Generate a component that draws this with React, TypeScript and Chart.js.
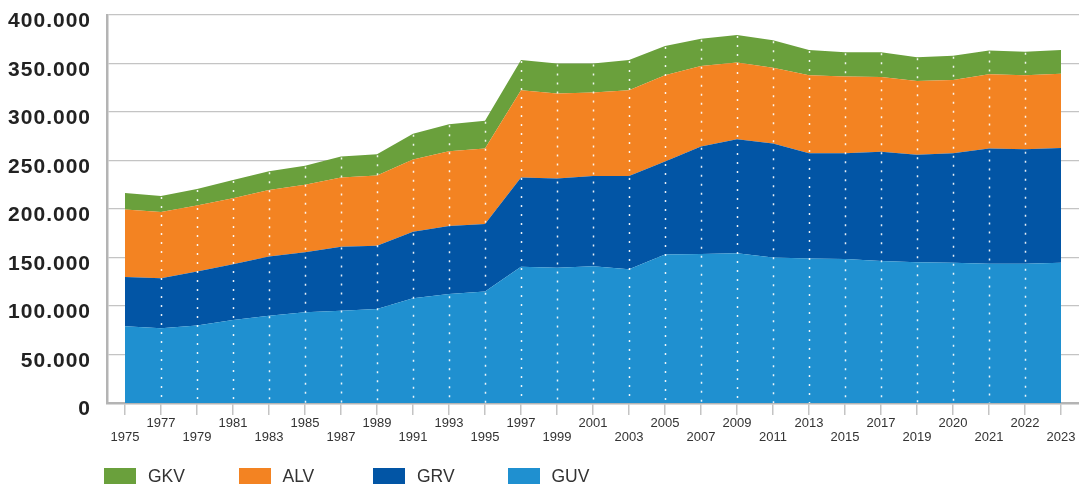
import React, { useEffect, useRef } from "react";
import { Chart, registerables } from "chart.js";

Chart.register(...registerables);

const years: string[] = [
  "1975", "1977", "1979", "1981", "1983", "1985", "1987", "1989", "1991", "1993", "1995",
  "1997", "1999", "2001", "2003", "2005", "2007", "2009", "2011", "2013", "2015",
  "2017", "2019", "2020", "2021", "2022", "2023",
];

const guv: number[] = [
  79000, 77000, 80000, 85500, 90000, 93500, 95000, 97000, 108000, 112500, 115000,
  140500, 139500, 141000, 138000, 153000, 153500, 154500, 150000, 149000, 148500,
  146500, 145000, 144500, 143500, 143500, 144500,
];
const grv: number[] = [
  51000, 51500, 55500, 57500, 61000, 62000, 66000, 65000, 68500, 70000, 69500,
  92000, 92000, 93000, 96000, 96000, 111000, 117500, 117500, 108500, 109000,
  112500, 111000, 113000, 119000, 118000, 118500,
];
const alv: number[] = [
  69500, 68500, 68000, 68000, 68500, 69500, 71500, 72500, 74500, 77000, 78000,
  90000, 87500, 86000, 88500, 89000, 83000, 79000, 78000, 80500, 79000,
  77000, 76000, 75500, 76500, 76500, 76500,
];
const gkv: number[] = [
  17000, 16500, 17000, 19000, 19500, 19500, 21500, 22000, 26500, 28000, 28500,
  31000, 31000, 30000, 31000, 30000, 28000, 28500, 28500, 26000, 25000,
  25500, 24500, 25000, 24500, 24000, 24500,
];

const yMax = 400000;
const yStep = 50000;

const COLORS = {
  GKV: "#6aa03c",
  ALV: "#f38322",
  GRV: "#0255a5",
  GUV: "#1f90d0",
};

const legendItems = [
  { label: "GKV", color: COLORS.GKV },
  { label: "ALV", color: COLORS.ALV },
  { label: "GRV", color: COLORS.GRV },
  { label: "GUV", color: COLORS.GUV },
];

const formatDe = (v: number) =>
  String(Math.round(v)).replace(/\B(?=(\d{3})+(?!\d))/g, ".");

const dottedLines = {
  id: "dottedLines",
  afterDatasetsDraw(chart: any) {
    const ctx = chart.ctx;
    const n = chart.data.labels.length;
    const topMeta = chart.getDatasetMeta(chart.data.datasets.length - 1);
    const bottom = chart.chartArea.bottom;
    ctx.save();
    ctx.strokeStyle = "rgba(255,255,255,0.9)";
    ctx.lineWidth = 1.5;
    ctx.setLineDash([2, 7]);
    for (let i = 1; i < n - 1; i++) {
      const pt = topMeta.data[i];
      if (!pt) continue;
      const x = Math.round(pt.x) + 0.5;
      ctx.beginPath();
      ctx.moveTo(x, pt.y + 1);
      ctx.lineTo(x, bottom);
      ctx.stroke();
    }
    ctx.restore();
    // wider tracking for the y-axis labels, which are drawn after the datasets
    ctx.letterSpacing = "1px";
  },
  afterDraw(chart: any) {
    chart.ctx.letterSpacing = "0px";
  },
};

export default function App() {
  const canvasRef = useRef<HTMLCanvasElement | null>(null);

  useEffect(() => {
    if (!canvasRef.current) return;
    const mk = (label: string, data: number[], color: string, fill: any) => ({
      label,
      data,
      backgroundColor: color,
      borderColor: color,
      borderWidth: 0,
      pointRadius: 0,
      pointHoverRadius: 0,
      tension: 0,
      fill,
    });
    const chart = new Chart(canvasRef.current, {
      type: "line",
      data: {
        labels: years,
        datasets: [
          mk("GUV", guv, COLORS.GUV, "origin"),
          mk("GRV", grv, COLORS.GRV, "-1"),
          mk("ALV", alv, COLORS.ALV, "-1"),
          mk("GKV", gkv, COLORS.GKV, "-1"),
        ],
      },
      options: {
        animation: false,
        responsive: true,
        maintainAspectRatio: false,
        layout: { padding: { top: 15, right: 0, bottom: 0, left: 0 } },
        plugins: {
          legend: { display: false },
          tooltip: { enabled: false },
        },
        scales: {
          x: {
            type: "category",
            offset: true,
            grid: {
              offset: false,
              drawOnChartArea: false,
              drawTicks: true,
              tickLength: 12,
              color: "#c4c4c4",
              lineWidth: 1.5,
            },
            border: { display: true, color: "#b4b4b4", width: 2.5 },
            ticks: {
              autoSkip: false,
              maxRotation: 0,
              minRotation: 0,
              padding: 1,
              color: "#333",
              font: { family: "'Liberation Sans', Arial, sans-serif", size: 13, lineHeight: 1.1 },
              callback: function (this: any, _v: any, index: number) {
                const lbl = years[index];
                return index % 2 === 0 ? ["", lbl] : [lbl];
              },
            },
            afterFit: (scale: any) => {
              scale.height = 84;
            },
          },
          y: {
            stacked: true,
            min: 0,
            max: yMax,
            grid: {
              drawTicks: false,
              tickLength: 0,
              color: "#c4c4c4",
              lineWidth: 1.2,
            },
            border: { display: true, color: "#b4b4b4", width: 2.5 },
            ticks: {
              z: 1,
              stepSize: yStep,
              padding: 16,
              labelOffset: 6.5,
              color: "#222",
              font: { family: "'Liberation Sans', Arial, sans-serif", size: 21, weight: "bold" },
              callback: (v: any) => formatDe(Number(v)),
            },
            afterFit: (scale: any) => {
              scale.width = 107;
              scale.paddingTop = 0;
              scale.paddingBottom = 0;
            },
          },
        },
      },
      plugins: [dottedLines],
    } as any);
    return () => chart.destroy();
  }, []);

  return (
    <div style={{ position: "fixed", left: 0, top: 0, width: 1079, height: 487, background: "#fff" }}>
      <canvas ref={canvasRef} />
      <div style={{ position: "absolute", left: 0, top: 468, height: 16, width: 1079 }}>
        {legendItems.map((it, i) => (
          <div
            key={it.label}
            style={{
              position: "absolute",
              left: 104 + i * 134.5,
              top: 0,
              height: 16,
              display: "flex",
              alignItems: "center",
            }}
          >
            <span style={{ display: "inline-block", width: 32, height: 16, background: it.color }} />
            <span
              style={{
                marginLeft: 12,
                fontFamily: "'Liberation Sans', Arial, sans-serif",
                fontSize: 17.5,
                color: "#333",
                lineHeight: "16px",
              }}
            >
              {it.label}
            </span>
          </div>
        ))}
      </div>
    </div>
  );
}
